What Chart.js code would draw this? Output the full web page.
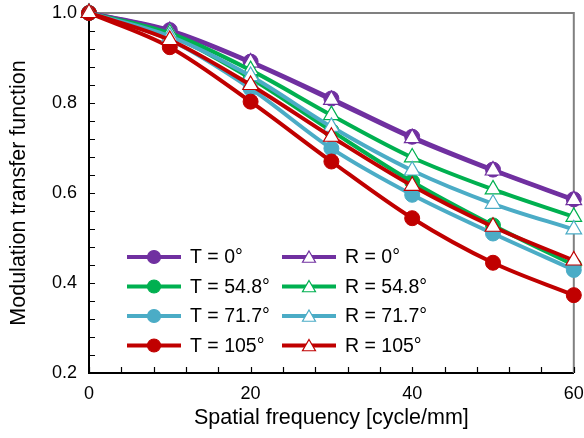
<!DOCTYPE html>
<html>
<head>
<meta charset="utf-8">
<script src="https://cdn.jsdelivr.net/npm/chart.js@4"></script>
<style>
  html, body { margin: 0; padding: 0; background: #fff; }
  #wrap { width: 584px; height: 438px; position: relative; }
</style>
</head>
<body>
<div id="wrap"><canvas id="mtfChart" width="584" height="438"></canvas></div>
<script>
// spatial frequency [cycle/mm]
const freq = [0, 10, 20, 30, 40, 50, 60]

// MTF
const t0 = [1.0, 0.962, 0.892, 0.810, 0.725, 0.652, 0.586]
const t548 = [1.0, 0.950, 0.855, 0.738, 0.625, 0.528, 0.440]
const t717 = [1.0, 0.940, 0.832, 0.699, 0.596, 0.510, 0.429]
const t105 = [1.0, 0.924, 0.803, 0.670, 0.544, 0.445, 0.373]
const r0 = [1.0, 0.960, 0.890, 0.807, 0.722, 0.650, 0.584]
const r548 = [1.0, 0.955, 0.873, 0.773, 0.679, 0.608, 0.547]
const r717 = [1.0, 0.948, 0.860, 0.747, 0.650, 0.576, 0.519]
const r105 = [1.0, 0.940, 0.840, 0.725, 0.616, 0.525, 0.450]

const seriesNames = ["T = 0°", "T = 54.8°", "T = 71.7°", "T = 105°", "R = 0°", "R = 54.8°", "R = 71.7°", "R = 105°"]
const seriesValues = [t0, t548, t717, t105, r0, r548, r717, r105]
const colors = ["#7030A0", "#00B050", "#4BACC6", "#C00000"]

const xTicks = [0, 20, 40, 60]
const yTicks = [0.2, 0.4, 0.6, 0.8, 1.0]

const FONT = "'Liberation Sans', Arial, sans-serif"

const datasets = seriesValues.map((vals, i) => {
  const isT = i < 4
  const c = colors[i % 4]
  return {
    label: seriesNames[i],
    data: vals.map((v, k) => ({ x: freq[k], y: v })),
    borderColor: c,
    borderWidth: 4,
    backgroundColor: isT ? c : "#ffffff",
    pointStyle: isT ? "circle" : "triangle",
    pointRadius: isT ? 7.5 : 9,
    pointBorderWidth: isT ? 1 : 1.2,
    pointBorderColor: c,
    pointBackgroundColor: isT ? c : "#ffffff",
    cubicInterpolationMode: "monotone",
    clip: false,
    order: 8 - i
  }
})

// inward ticks + grey top/right frame
const frameTicks = {
  id: "frameTicks",
  beforeDatasetsDraw(chart) {
    const ctx = chart.ctx
    const a = chart.chartArea
    const xs = chart.scales.x
    const ys = chart.scales.y
    ctx.save()
    ctx.strokeStyle = "#808080"
    ctx.lineWidth = 2
    ctx.beginPath()
    ctx.moveTo(a.left, a.top)
    ctx.lineTo(a.right, a.top)
    ctx.lineTo(a.right, a.bottom)
    ctx.stroke()

    ctx.strokeStyle = "#000"
    ctx.lineWidth = 1.2
    ctx.beginPath()
    for (let v = 0; v <= 60; v += 4) {
      const px = Math.round(xs.getPixelForValue(v)) + 0.5
      ctx.moveTo(px, a.bottom)
      ctx.lineTo(px, a.bottom - 6)
    }
    for (let k = 0; k <= 20; k++) {
      const v = 0.2 + k * 0.04
      const py = Math.round(ys.getPixelForValue(v)) + 0.5
      ctx.moveTo(a.left, py)
      ctx.lineTo(a.left + 6, py)
    }
    ctx.stroke()
    ctx.restore()
  }
}

// two column legend inside the plot
const innerLegend = {
  id: "innerLegend",
  afterDraw(chart) {
    const ctx = chart.ctx
    const a = chart.chartArea
    const x0 = a.left + 38
    const colW = 155
    const y0 = a.top + 244
    const rowH = 29.5
    ctx.save()
    ctx.font = "19.5px " + FONT
    ctx.textBaseline = "middle"
    ctx.fillStyle = "#000"
    chart.data.datasets.forEach((ds, i) => {
      const col = Math.floor(i / 4)
      const row = i % 4
      const lx = x0 + col * colW
      const ly = y0 + row * rowH
      ctx.strokeStyle = ds.borderColor
      ctx.lineWidth = 4
      ctx.beginPath()
      ctx.moveTo(lx, ly)
      ctx.lineTo(lx + 54, ly)
      ctx.stroke()
      const cx = lx + 27
      ctx.lineWidth = 1.2
      ctx.fillStyle = ds.pointBackgroundColor
      ctx.strokeStyle = ds.pointBorderColor
      ctx.beginPath()
      if (ds.pointStyle === "circle") {
        ctx.arc(cx, ly, 6.5, 0, Math.PI * 2)
      } else {
        const r = 7.5
        for (let k = 0; k < 3; k++) {
          const ang = k * 2 * Math.PI / 3
          const px = cx + Math.sin(ang) * r
          const py = ly + 1.5 - Math.cos(ang) * r
          if (k === 0) ctx.moveTo(px, py)
          else ctx.lineTo(px, py)
        }
        ctx.closePath()
      }
      ctx.fill()
      ctx.stroke()
      ctx.fillStyle = "#000"
      ctx.fillText(ds.label, lx + 63, ly + 1)
    })
    ctx.restore()
  }
}

const config = {
  type: "line",
  data: { datasets: datasets },
  plugins: [frameTicks, innerLegend],
  options: {
    responsive: false,
    animation: false,
    layout: { padding: { top: 13, right: 10, left: 0, bottom: 0 } },
    plugins: {
      legend: { display: false },
      tooltip: { enabled: false }
    },
    scales: {
      x: {
        type: "linear",
        min: 0,
        max: 60,
        afterBuildTicks: (s) => { s.ticks = xTicks.map(v => ({ value: v })) },
        afterFit: (s) => {
          s.height = 65
          s.paddingRight = 0
          s.paddingLeft = 0
        },
        grid: { display: false, drawTicks: false },
        border: { display: true, color: "#000", width: 2 },
        ticks: { color: "#000", padding: 10, font: { family: FONT, size: 18 }, maxRotation: 0 },
        title: {
          display: true,
          text: "Spatial frequency [cycle/mm]",
          color: "#000",
          font: { family: FONT, size: 21.5 },
          padding: { top: 0, bottom: 7 }
        }
      },
      y: {
        type: "linear",
        min: 0.2,
        max: 1.0,
        afterBuildTicks: (s) => { s.ticks = yTicks.map(v => ({ value: v })) },
        afterFit: (s) => {
          s.width = 89
          s.paddingTop = 0
          s.paddingBottom = 0
        },
        grid: { display: false, drawTicks: false },
        border: { display: true, color: "#000", width: 2 },
        ticks: {
          color: "#000",
          padding: 12,
          font: { family: FONT, size: 18 },
          callback: (v) => v.toFixed(1)
        },
        title: {
          display: true,
          text: "Modulation transfer function",
          color: "#000",
          font: { family: FONT, size: 21.5 },
          padding: { top: 6, bottom: 0 }
        }
      }
    }
  }
}

const mtfChart = new Chart(document.getElementById("mtfChart"), config)
</script>
</body>
</html>
